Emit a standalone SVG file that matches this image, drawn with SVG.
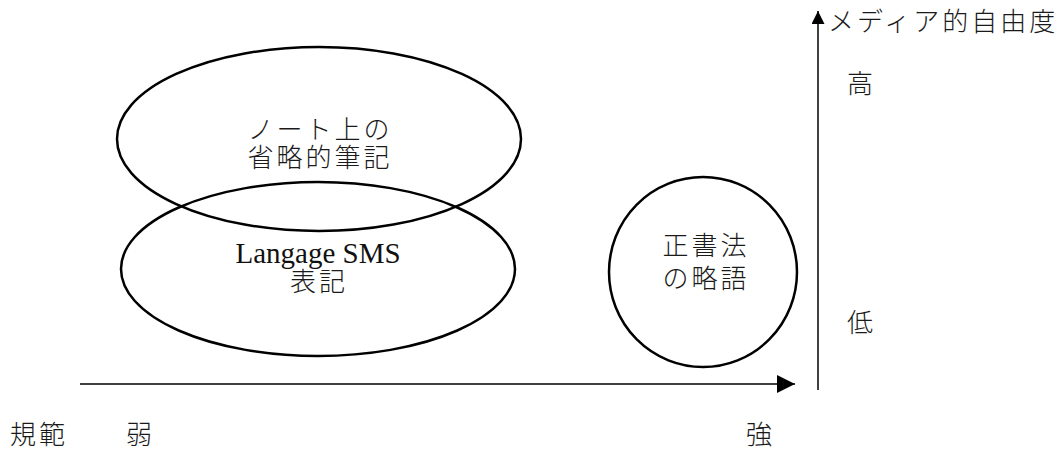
<svg xmlns="http://www.w3.org/2000/svg" width="1064" height="456" viewBox="0 0 1064 456">
<style>
.e{fill:none;stroke:#000;stroke-width:2.5}
.t{font-family:"Liberation Serif","Noto Sans CJK JP",serif;font-size:26px;font-weight:300;letter-spacing:3px;fill:#1a1a1a}
.l{font-family:"Liberation Serif",serif;font-size:29px;font-weight:400;letter-spacing:0;fill:#111}
.c{text-anchor:middle}
.ax{stroke:#000;stroke-width:1.5;fill:none}
</style>
<defs>
<marker id="ah" viewBox="0 0 10 10" refX="10" refY="5" markerWidth="18" markerHeight="18" markerUnits="userSpaceOnUse" orient="auto">
<path d="M0,0 L10,5 L0,10 Z" fill="#000"/>
</marker>
<marker id="av" viewBox="0 0 10 10" refX="10" refY="5" markerWidth="13" markerHeight="13" markerUnits="userSpaceOnUse" orient="auto">
<path d="M0,0 L10,5 L0,10 Z" fill="#000"/>
</marker>
</defs>
<rect width="1064" height="456" fill="#fff"/>
<g id="connectors">
<line class="ax" x1="80" y1="384" x2="795" y2="384" marker-end="url(#ah)"/>
<line class="ax" x1="818" y1="390" x2="818" y2="11" stroke="#333" marker-end="url(#av)"/>
</g>
<g id="node-note">
<ellipse class="e" cx="319" cy="139" rx="202" ry="92"/>
<text class="t c" x="320" y="139">ノート上の</text>
<text class="t c" x="320" y="167">省略的筆記</text>
</g>
<g id="node-sms">
<ellipse class="e" cx="318" cy="269" rx="197" ry="87"/>
<text class="l c" x="318" y="263">Langage SMS</text>
<text class="t c" x="319" y="291">表記</text>
</g>
<g id="node-ortho">
<ellipse class="e" cx="703" cy="272" rx="94" ry="95"/>
<text class="t c" x="706" y="255">正書法</text>
<text class="t c" x="706" y="288">の略語</text>
</g>
<g id="labels">
<text class="t" x="828" y="31">メディア的自由度</text>
<text class="t" x="847" y="93">高</text>
<text class="t" x="847" y="332">低</text>
<text class="t" x="10" y="444">規範</text>
<text class="t" x="126" y="444">弱</text>
<text class="t" x="746" y="444">強</text>
</g>
</svg>
